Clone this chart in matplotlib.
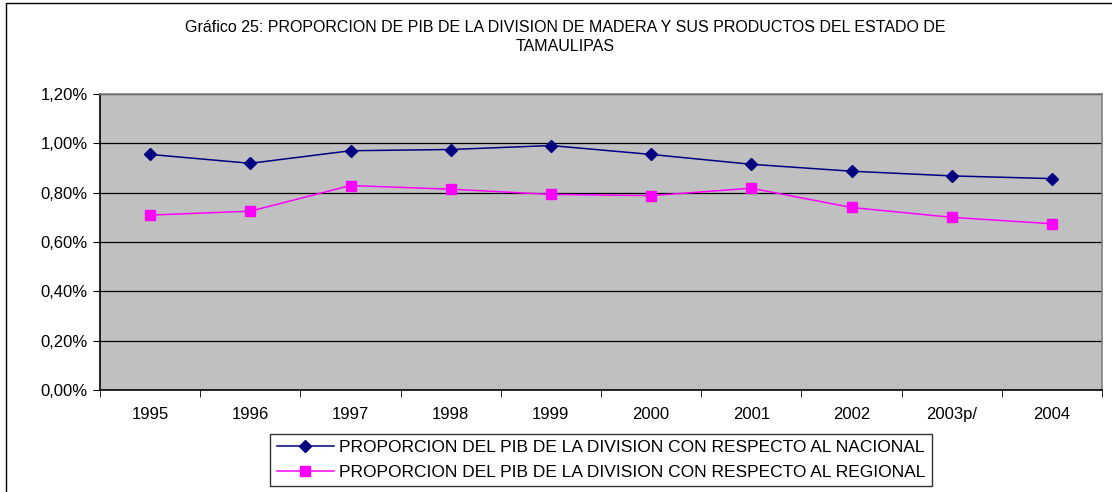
import numpy as np
import matplotlib.pyplot as plt
from matplotlib.patches import Rectangle
from matplotlib.ticker import FuncFormatter, FixedLocator

plt.rcParams['font.family'] = ['Liberation Sans', 'DejaVu Sans']

# -----------------------------
# Data
# -----------------------------
years = ["1995", "1996", "1997", "1998", "1999", "2000", "2001", "2002", "2003p/", "2004"]
nacional = [0.955, 0.919, 0.970, 0.975, 0.991, 0.955, 0.915, 0.887, 0.868, 0.857]
regional = [0.709, 0.725, 0.829, 0.814, 0.793, 0.788, 0.818, 0.740, 0.700, 0.674]

title = ("Gráfico 25: PROPORCION DE PIB DE LA DIVISION DE MADERA Y SUS PRODUCTOS DEL ESTADO DE\n"
         "TAMAULIPAS")
label_nac = "PROPORCION DEL PIB DE LA DIVISION CON RESPECTO AL NACIONAL"
label_reg = "PROPORCION DEL PIB DE LA DIVISION CON RESPECTO AL REGIONAL"

# -----------------------------
# Figure
# -----------------------------
W, H = 1112, 492
fig = plt.figure(figsize=(W / 100, H / 100), dpi=100)

# outer chart border
fig.patches.append(Rectangle((6 / W, -0.01), 1.2, (H - 3) / H + 0.01,
                             transform=fig.transFigure, fill=False,
                             edgecolor="black", linewidth=1.0))

ax = fig.add_axes([100 / W, 1 - 390 / H, (1102 - 100) / W, (390 - 94) / H])
ax.set_facecolor("#C0C0C0")

x = np.arange(len(years))
ax.plot(x, nacional, color="#000080", marker="D", markersize=6, linewidth=1.1,
        label=label_nac)
ax.plot(x, regional, color="#FF00FF", marker="s", markersize=6.5, linewidth=1.1,
        label=label_reg)

ax.set_xlim(-0.5, len(years) - 0.5)
ax.set_ylim(0, 1.2)

yticks = np.arange(0, 1.21, 0.2)
ax.set_yticks(yticks)
ax.yaxis.set_major_formatter(FuncFormatter(lambda v, p: f"{v:.2f}%".replace(".", ",")))
for yv in yticks[1:]:
    ax.axhline(yv, color="black", linewidth=0.9, zorder=1)

ax.set_xticks(x)
ax.set_xticklabels(years)
ax.xaxis.set_minor_locator(FixedLocator(np.arange(-0.5, len(years), 1.0)))
ax.tick_params(axis="x", which="major", length=0, pad=12, labelsize=12)
ax.tick_params(axis="x", which="minor", length=5, direction="out", color="black")
ax.tick_params(axis="y", length=5, direction="out", labelsize=12, pad=4)

for side in ["top", "right"]:
    ax.spines[side].set_color("#808080")
    ax.spines[side].set_linewidth(1.2)
ax.spines["left"].set_color("black")
ax.spines["bottom"].set_color("black")
ax.spines["left"].set_linewidth(1.2)
ax.spines["bottom"].set_linewidth(1.2)

fig.text(565 / W, 1 - 20 / H, title, ha="center", va="top", fontsize=11.5,
         linespacing=1.3)

leg = fig.legend(loc="center", bbox_to_anchor=(601 / W, 1 - 460 / H),
                 fontsize=12.5, frameon=True, fancybox=False, edgecolor="black",
                 handlelength=3.3, borderpad=0.35, labelspacing=0.6,
                 handletextpad=0.3, borderaxespad=0)
leg.get_frame().set_linewidth(1.0)

plt.savefig("out.png", dpi=100)
plt.close()
